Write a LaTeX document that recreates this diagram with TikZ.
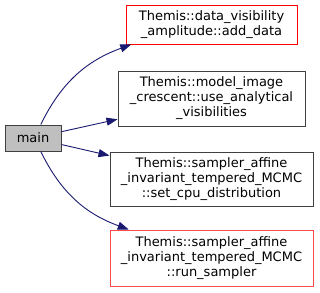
\documentclass[tikz,border=0pt]{standalone}
\usepackage{fontspec}
\setmainfont{DejaVu Sans}
\usetikzlibrary{arrows.meta}

\definecolor{edgeblue}{HTML}{191970}
\definecolor{boxgray}{HTML}{BFBFBF}
\definecolor{boxline}{HTML}{404040}

\tikzset{
  fn/.style={draw=boxline, fill=white, line width=1pt, align=center,
    inner sep=0pt, font=\fontsize{13}{15}\selectfont},
  hot/.style={fn, draw=red},
  call/.style={edgeblue, line width=0.9pt, -{Triangle[length=11pt,width=8pt]}}
}

\begin{document}
\begin{tikzpicture}[x=1pt,y=-1pt]
\useasboundingbox (0,0) rectangle (320,292);

%% functions
\node[fn, fill=boxgray, minimum width=56pt, minimum height=26pt] (main) at (33,138) {main};
\node[hot, minimum width=171pt, minimum height=39pt] (adddata) at (211.5,24.5)
  {Themis::data\_visibility\\\_amplitude::add\_data};
\node[fn, minimum width=187pt, minimum height=55pt] (useanalytical) at (211.5,98.5)
  {Themis::model\_image\\\_crescent::use\_analytical\\\_visibilities};
\node[fn, minimum width=203pt, minimum height=54pt] (setcpu) at (211.5,179)
  {Themis::sampler\_affine\\\_invariant\_tempered\_MCMC\\::set\_cpu\_distribution};
\node[hot, draw=red!70, minimum width=203pt, minimum height=56pt] (runsampler) at (211.5,258)
  {Themis::sampler\_affine\\\_invariant\_tempered\_MCMC\\::run\_sampler};

%% calls
\draw[call] (main.60) to[out=64,in=200] (adddata.194);
\draw[call] (main) -- (useanalytical);
\draw[call] (main) -- (setcpu);
\draw[call] (main.-60) to[out=-64,in=160] (runsampler.161);

\end{tikzpicture}
\end{document}
